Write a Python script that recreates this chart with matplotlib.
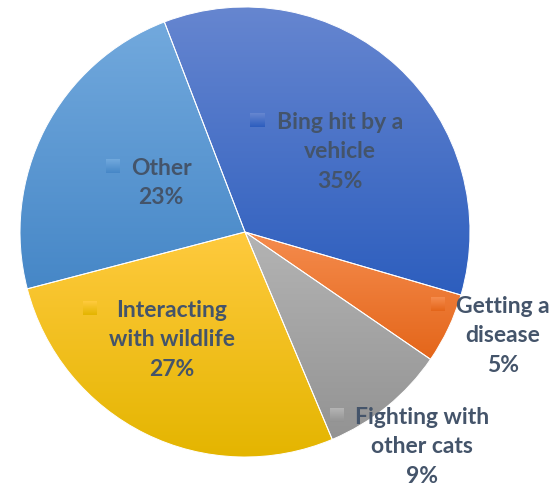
import numpy as np
import matplotlib
matplotlib.use("Agg")
import matplotlib.pyplot as plt
from matplotlib.colors import to_rgb

# Causes of death for outdoor cats (percent)
causes = ["Bing hit by a\nvehicle", "Getting a\ndisease", "Fighting with\nother cats",
          "Interacting\nwith wildlife", "Other"]
shares = [35, 5, 9, 27, 23]

# top / bottom colour of each slice's vertical gradient
tops = ["#6686d0", "#f58c4e", "#b4b4b4", "#ffca3e", "#72a9dd"]
bottoms = ["#2d5ebe", "#e4661a", "#939393", "#e4b500", "#4687c7"]

W, H = 552, 489
text_color = "#44546a"
font = "Lato"

# label block centres and legend-key spots, in pixel units from top-left
label_xy = [(340, 152), (503, 336), (422, 447), (172, 340), (161, 183)]
key_xy = [(257, 121), (438, 305), (337, 416), (90, 309), (113, 167)]


def gradient(top, bottom, n=256):
    t = np.linspace(0, 1, n)[:, None]
    a, b = np.array(to_rgb(bottom)), np.array(to_rgb(top))
    return (a + (b - a) * t)[:, None, :]


fig = plt.figure(figsize=(W / 100, H / 100), dpi=100)
ax = fig.add_axes([0, 0, 1, 1])
ax.set_axis_off()

wedges, _ = ax.pie(shares, center=(245, H - 233), radius=225, startangle=111,
                   counterclock=False, frame=True,
                   wedgeprops=dict(facecolor="none", edgecolor="white", linewidth=0.7))

# fill every wedge with its own top-to-bottom gradient
for w, top, bot in zip(wedges, tops, bottoms):
    ext = w.get_path().get_extents()
    im = ax.imshow(gradient(top, bot), origin="lower", aspect="auto",
                   extent=(ext.x0, ext.x1, ext.y0, ext.y1), zorder=1)
    im.set_clip_path(w)
    w.set_zorder(2)

# data labels with small legend keys
for lab, val, (lx, ly), (kx, ky), top, bot in zip(causes, shares, label_xy, key_xy,
                                                     tops, bottoms):
    lines = lab.split("\n") + [f"{val}%"]
    y0 = ly - (len(lines) - 1) * 29.5 / 2
    for i, line in enumerate(lines):
        ax.text(lx, H - (y0 + i * 29.5), line, ha="center", va="center",
                fontsize=16.5, fontweight="bold", color=text_color, family=font,
                zorder=5)
    s = 14
    ax.imshow(gradient(top, bot, 32), origin="lower", aspect="auto",
              extent=(kx - s / 2, kx + s / 2, H - ky - s / 2, H - ky + s / 2),
              zorder=4)

ax.set_xlim(0, W)
ax.set_ylim(0, H)
ax.set_aspect("equal")
fig.savefig("out.png", dpi=100, facecolor="white")
